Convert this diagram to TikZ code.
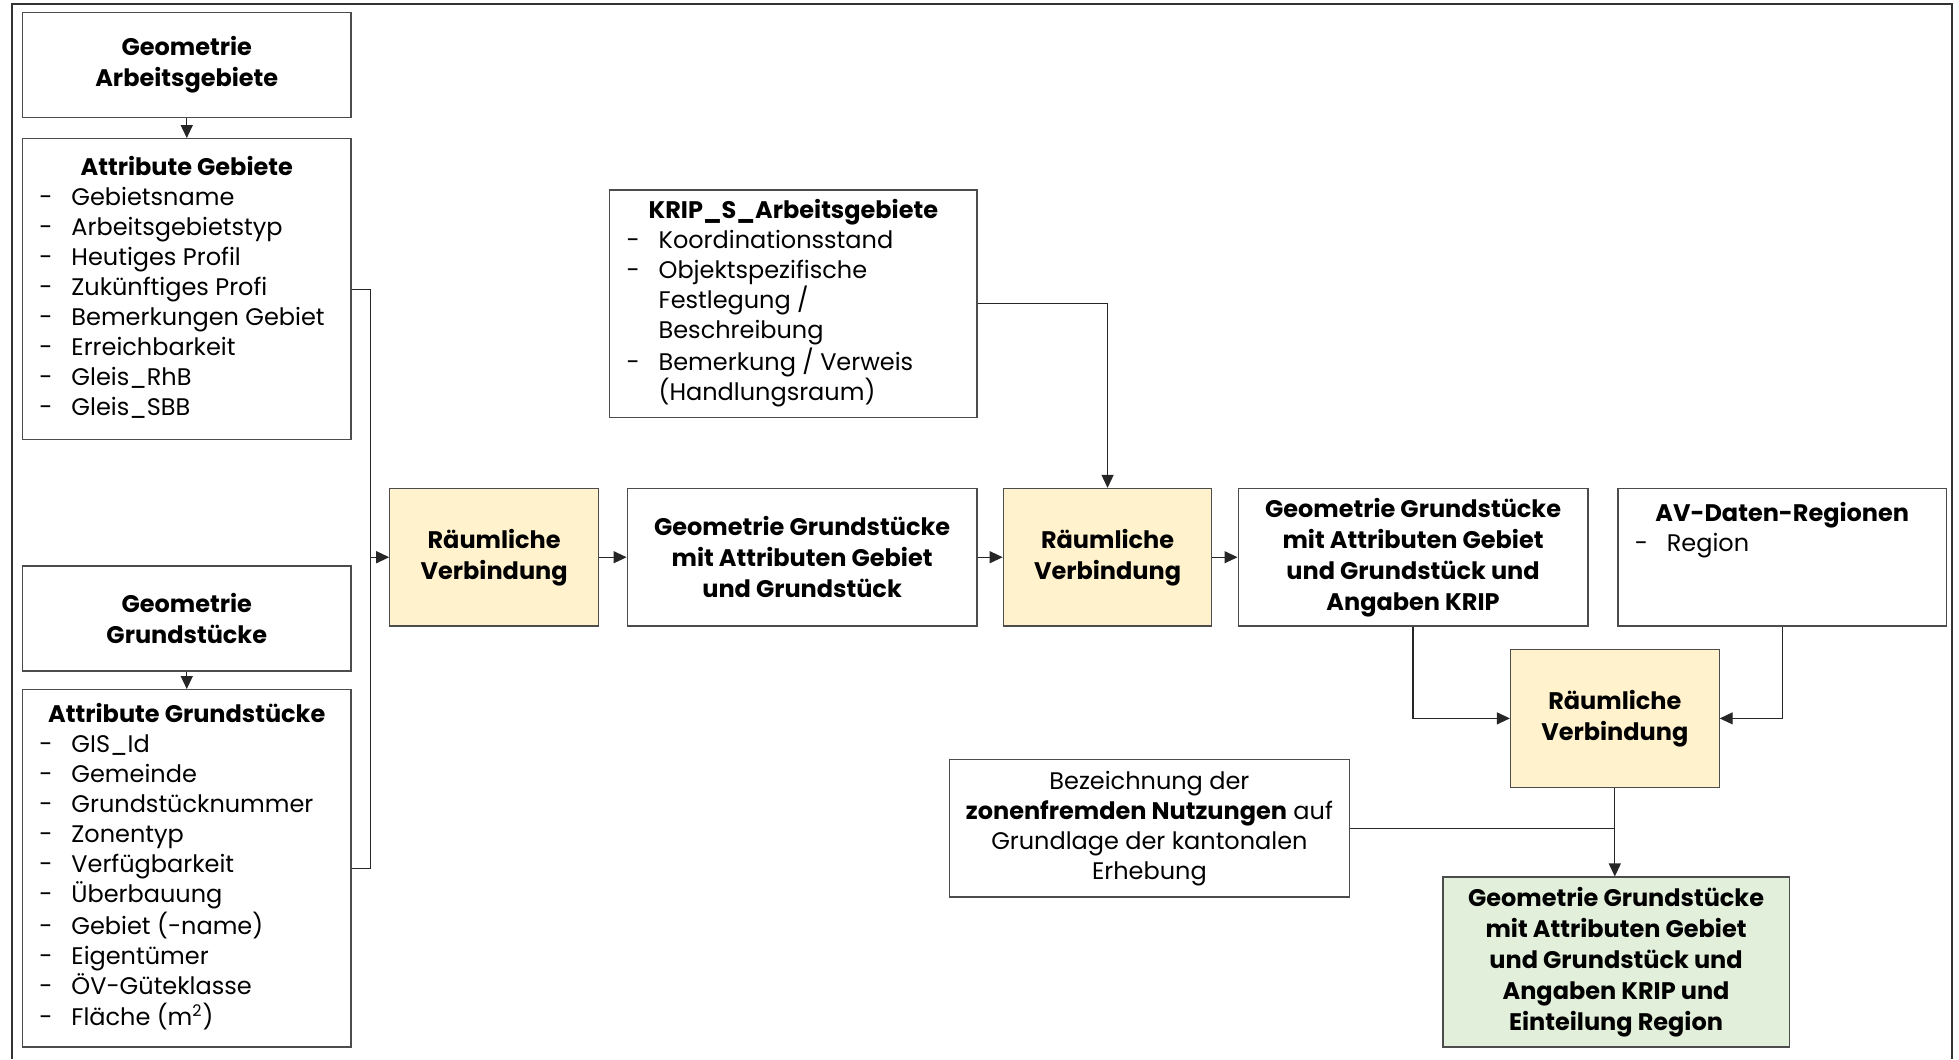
\documentclass[tikz,border=0pt]{standalone}
\usepackage{fontspec}
\setmainfont{Poppins}
\usepackage{array}
\usetikzlibrary{arrows.meta}
\newenvironment{lbox}[1]{\begin{tabular}{@{\hspace{8.5pt}}p{16pt}@{}>{\raggedright\arraybackslash}p{\dimexpr#1-24.5pt\relax}@{}}}{\end{tabular}}
\newcommand\hd[1]{\multicolumn{2}{@{}c@{}}{\textbf{#1}}}
\begin{document}
\begin{tikzpicture}[x=0.625pt,y=-0.625pt,
  font=\fontsize{12}{15}\selectfont,
  sz/.style 2 args={minimum width=#1*0.625pt,minimum height=#2*0.625pt},
  box/.style={draw=black!70,line width=0.6pt,fill=white,inner sep=0pt,align=center},
  boldbox/.style={box,font=\fontsize{12}{15.5}\selectfont\bfseries},
  rv/.style={boldbox,fill=yellowfill},
  fin/.style={boldbox,fill=greenfill},
  conn/.style={draw=black!85,line width=0.6pt},
  arr/.style={conn,-{Triangle[length=6.5pt,width=6pt]}}]
\definecolor{yellowfill}{HTML}{FFF2CC}
\definecolor{greenfill}{HTML}{E2EFDA}
\useasboundingbox (0,0) rectangle (1568,848);
\draw[draw=black!80,line width=1pt] (9.5,848) -- (9.5,3) -- (1562,3) -- (1562,848);

% left column
\node[boldbox,sz={263}{84}] (ga) at (149.5,52) {Geometrie\\Arbeitsgebiete};
\node[box,sz={263}{241}] (ag) at (149.5,231.5) {\begin{lbox}{164.375pt}
\hd{Attribute Gebiete}\\
-&Gebietsname\\
-&Arbeitsgebietstyp\\
-&Heutiges Profil\\
-&Zukünftiges Profi\\
-&Bemerkungen Gebiet\\
-&Erreichbarkeit\\
-&Gleis\_RhB\\
-&Gleis\_SBB
\end{lbox}};
\node[boldbox,sz={263}{84}] (gg) at (149.5,495) {Geometrie\\Grundstücke};
\node[box,sz={263}{286}] (ar) at (149.5,695) {\begin{lbox}{164.375pt}
\hd{Attribute Grundstücke}\\
-&GIS\_Id\\
-&Gemeinde\\
-&Grundstücknummer\\
-&Zonentyp\\
-&Verfügbarkeit\\
-&Überbauung\\
-&Gebiet (-name)\\
-&Eigentümer\\
-&ÖV-Güteklasse\\
-&Fläche (m\textsuperscript{2})
\end{lbox}};

% main row
\node[rv,sz={167}{110}] (rv1) at (395.5,446) {Räumliche\\Verbindung};
\node[boldbox,sz={280}{110}] (b6) at (642,446) {Geometrie Grundstücke\\mit Attributen Gebiet\\und Grundstück};
\node[box,sz={294}{182}] (krip) at (635,243) {\begin{lbox}{183.75pt}
\hd{KRIP\_S\_Arbeitsgebiete}\\
-&Koordinationsstand\\
-&Objektspezifische\newline Festlegung /\newline Beschreibung\\
-&Bemerkung / Verweis\newline (Handlungsraum)
\end{lbox}};
\node[rv,sz={167}{110}] (rv2) at (886.5,446) {Räumliche\\Verbindung};
\node[boldbox,sz={280}{110}] (b9) at (1131,446) {Geometrie Grundstücke\\mit Attributen Gebiet\\und Grundstück und\\Angaben KRIP};
\node[box,sz={263}{110}] (av) at (1426.5,446) {\begin{lbox}{164.375pt}
\hd{AV-Daten-Regionen}\\
-&Region\\[27pt]
\end{lbox}};
\node[rv,sz={167}{110}] (rv3) at (1292.5,575) {Räumliche\\Verbindung};
\node[box,sz={320}{110}] (bez) at (920,663) {Bezeichnung der\\\textbf{zonenfremden Nutzungen} auf\\Grundlage der kantonalen\\Erhebung};
\node[fin,sz={277}{136}] (fin) at (1293.5,770) {Geometrie Grundstücke\\mit Attributen Gebiet\\und Grundstück und\\Angaben KRIP und\\Einteilung Region};

% connectors
\draw[arr] (ga.south) -- (ag.north);
\draw[arr] (gg.south) -- (ar.north);
\coordinate (j1) at ([xshift=15*0.625pt]ag.east |- rv1.west);
\draw[conn] (ag.east) -| (j1);
\draw[conn] (ar.east) -| (j1);
\draw[arr] (j1) -- (rv1.west);
\draw[arr] (rv1.east) -- (b6.west);
\draw[arr] (b6.east) -- (rv2.west);
\draw[arr] (krip.east) -| (rv2.north);
\draw[arr] (rv2.east) -- (b9.west);
\draw[arr] (b9.south) |- (rv3.west);
\draw[arr] (av.south) |- (rv3.east);
\draw[arr] (rv3.south) -- (rv3.south |- fin.north);
\coordinate (j2) at (rv3.south |- bez.east);
\draw[conn] (bez.east) -- (j2);
\end{tikzpicture}
\end{document}
